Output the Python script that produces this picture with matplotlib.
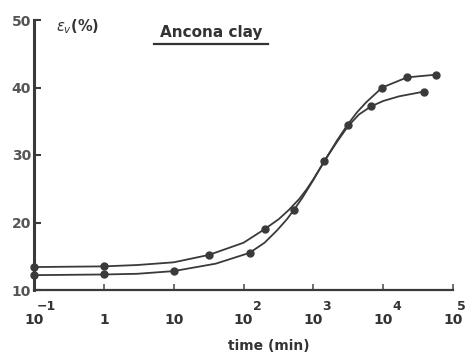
import numpy as np
import matplotlib
matplotlib.use("Agg")
import matplotlib.pyplot as plt
import matplotlib.transforms as mtransforms
from matplotlib.lines import Line2D

# measured points (time in min, volumetric strain in %)
t_a = [0.1, 1, 32, 200, 1440, 6700, 39000]
ev_a = [13.4, 13.6, 15.2, 19.0, 29.1, 37.2, 39.4]
t_b = [0.1, 1, 10, 122, 530, 3100, 9700, 22000, 57000]
ev_b = [12.2, 12.3, 12.8, 15.5, 21.9, 34.5, 40.0, 41.5, 41.9]

# fitted curves
curve_t_a = [0.1, 1, 3, 10, 32, 100, 200, 320, 450, 630, 800, 1000, 1440, 2200, 3100, 4500, 6700, 10000, 17000, 39000]
curve_ev_a = [13.4, 13.5, 13.7, 14.1, 15.2, 17.0, 19.0, 20.5, 21.9, 23.5, 24.9, 26.4, 29.1, 32.0, 34.2, 36.0, 37.2, 38.0, 38.7, 39.4]
curve_t_b = [0.1, 1, 3, 10, 40, 122, 200, 300, 420, 530, 700, 1000, 1440, 2200, 3100, 4200, 5700, 9700, 22000, 57000]
curve_ev_b = [12.2, 12.3, 12.4, 12.8, 13.9, 15.5, 17.0, 18.8, 20.5, 21.9, 23.7, 26.3, 29.1, 32.2, 34.5, 36.3, 37.8, 40.0, 41.5, 41.9]

# tick labels: mantissa and exponent
xticks = [0.1, 1, 10, 100, 1000, 10000, 100000]
xbase = ['10', '1', '10', '10', '10', '10', '10']
xexp = ['\u22121', '', '', '2', '3', '4', '5']
yticks = [10, 20, 30, 40, 50]

ink = '#3a3a3a'

fig = plt.figure(figsize=(4.67, 3.55), dpi=100)
fig.patch.set_facecolor('white')
ax = fig.add_axes([34/467, 1-290/355, (453-34)/467, (290-20)/355])

ax.plot(curve_t_a, curve_ev_a, color=ink, lw=1.3, solid_capstyle='round')
ax.plot(curve_t_b, curve_ev_b, color=ink, lw=1.3, solid_capstyle='round')
ax.plot(t_a, ev_a, 'o', color=ink, ms=5, clip_on=False)
ax.plot(t_b, ev_b, 'o', color=ink, ms=5, clip_on=False)

ax.set_xscale('log')
ax.set_xlim(0.1, 1e5)
ax.set_ylim(10, 50)
ax.minorticks_off()
ax.set_xticks(xticks)
ax.set_xticklabels([])
ax.set_yticks(yticks)
ax.set_yticklabels([str(v) for v in yticks], fontweight='bold')

for s in ['top', 'right']:
    ax.spines[s].set_visible(False)
ax.spines['left'].set_linewidth(2.2)
ax.spines['bottom'].set_linewidth(1.6)
ax.spines['left'].set_color(ink)
ax.spines['bottom'].set_color(ink)

ax.tick_params(axis='y', direction='in', length=5, width=1.5, color=ink,
               labelsize=10, labelcolor='#555555', pad=2)
ax.tick_params(axis='x', direction='in', length=4, width=1.2, color='#555555')

# x tick labels drawn by hand so the exponent sits like in the original
trans = mtransforms.blended_transform_factory(ax.transData, fig.transFigure)
for xv, b, e in zip(xticks, xbase, xexp):
    ax.text(xv, 1-320/355, b, transform=trans, fontsize=10, fontweight='bold',
            color='#333333', ha='center', va='center', clip_on=False)
    if e:
        dx = 3 if e == '\u22121' else (4 if e == '5' else 9)
        off = mtransforms.offset_copy(trans, fig=fig, x=dx, y=0, units='dots')
        ax.text(xv, 1-307/355, e, transform=off, fontsize=9, fontweight='bold',
                color='#333333', ha='left', va='center', clip_on=False)

fig.text(56/467, 1-27/355, r'$\varepsilon_v$(%)', fontsize=10.5, fontweight='bold',
         color='#333333', ha='left', va='center')
fig.text(211/467, 1-32/355, 'Ancona clay', fontsize=11, fontweight='bold',
         color='#333333', ha='center', va='center')
fig.add_artist(Line2D([154/467, 268/467], [1-44/355, 1-44/355], color='#333333', lw=1.6))
fig.text(269/467, 1-346/355, 'time (min)', fontsize=10, fontweight='bold',
         color='#333333', ha='center', va='center')

fig.savefig('out.png', dpi=100)
